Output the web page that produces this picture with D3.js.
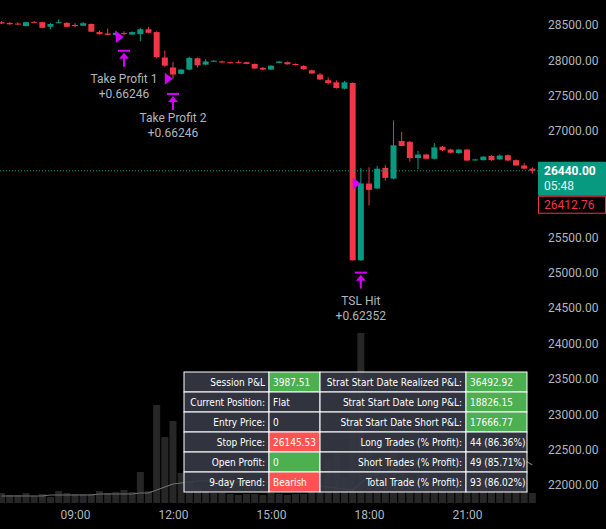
<!DOCTYPE html><html><head><meta charset="utf-8">
<script src="https://cdn.jsdelivr.net/npm/d3@7"></script>
<style>body{margin:0;background:#000;}svg{display:block;font-family:Roboto,sans-serif;}</style></head><body>
<svg id="c" width="606" height="529"></svg>
<script>
const startTime="06:45";
const opens=[28540,28530,28520,28485,28545,28540,28475,28530,28530,28500,28490,28515,28400,28380,28360,28385,28365,28370,28440,28400,28040,27900,27810,27870,28030,27940,27990,27985,27975,27975,27975,27950,27895,27870,27965,27975,27950,27920,27860,27800,27720,27690,27600,27680,25175,26260,26190,26480,26330,26860,26850,26620,26670,26610,26780,26740,26690,26740,26590,26590,26650,26600,26660,26590,26515,26470];
const highs=[28555,28540,28540,28545,28555,28545,28525,28580,28540,28525,28540,28520,28420,28450,28420,28410,28410,28460,28470,28410,28140,27980,27880,28050,28040,28020,28005,27995,27980,28000,27980,27955,27905,27930,27990,27985,27955,27930,27870,27820,27760,27720,27710,27690,26480,26490,26510,26520,27150,26990,26860,26720,26680,26830,26790,26750,26750,26750,26610,26645,26660,26670,26670,26600,26550,26490];
const lows=[28515,28505,28500,28480,28530,28455,28440,28525,28470,28470,28485,28400,28365,28355,28340,28360,28360,28270,28380,28030,27910,27740,27800,27860,27900,27930,27980,27965,27955,27960,27945,27880,27860,27865,27960,27940,27930,27870,27810,27720,27660,27600,27590,25170,25170,25950,26180,26300,26320,26790,26570,26460,26600,26600,26720,26690,26685,26580,26585,26585,26580,26595,26580,26510,26460,26400];
const closes=[28520,28510,28515,28540,28535,28460,28515,28540,28475,28495,28525,28405,28370,28360,28390,28380,28400,28440,28390,28045,27925,27800,27870,28035,27930,27985,27995,27970,27960,27970,27950,27885,27870,27925,27985,27945,27935,27875,27815,27730,27680,27610,27690,25175,26260,26170,26470,26340,26800,26790,26620,26670,26610,26770,26730,26695,26740,26585,26600,26640,26590,26655,26585,26515,26470,26440];
const volumes=[10,8,8,10,7,9,6,12,10,9,9,9,12,10,11,13,11,31,12,98,66,82,30,22,14,12,10,10,9,8,9,9,8,10,9,8,9,9,11,12,43,50,25,120,170,60,45,30,55,35,25,20,30,18,15,14,16,14,12,14,12,13,15,14,14,10];
const volumeMA=[7,7,7,7,7,7,8,8,8,8,8,8,9,9,9,9,9,10,10,13,16,19,20,21,22,22,22,22,21,21,21,21,21,21,20,20,20,19,18,17,16,15,14,13,20,26,29,31,33,35,38,40,41,43,44,45,45,45,45,45,45,45,45,44,43,38,33];
const priceTicks=[28500,28000,27500,27000,25500,25000,24500,24000,23500,23000,22500,22000];
const timeTicks=["09:00","12:00","15:00","18:00","21:00"];
const signals=[{i:14,label:"Take Profit 1",value:"+0.66246",arrow:28150,triY:28330,text:27680},
 {i:20,label:"Take Profit 2",value:"+0.66246",arrow:27540,triY:27740,text:27130},
 {i:43,label:"TSL Hit",value:"+0.62352",arrow:25015,triY:26260,text:24550}];
const tableRows=[["Session P&L","3987.51","g","Strat Start Date Realized P&L:","36492.92","g"],
 ["Current Position:","Flat","","Strat Start Date Long P&L:","18826.15","g"],
 ["Entry Price:","0","","Strat Start Date Short P&L:","17666.77","g"],
 ["Stop Price:","26145.53","r","Long Trades  (% Profit):","44 (86.36%)",""],
 ["Open Profit:","0","g","Short Trades  (% Profit):","49 (85.71%)",""],
 ["9-day Trend:","Bearish","r","Total Trade  (% Profit):","93 (86.02%)",""]];
const lastPrice=26440, lastLabel="26440.00", countdown="05:48", otherPrice="26412.76";

const svg=d3.select("#c");
const pt=d3.timeParse("%H:%M");
const t0=pt(startTime);
const times=opens.map((d,i)=>d3.timeMinute.offset(t0,15*i));
const x=d3.scaleTime().domain([pt("09:00"),pt("21:00")]).range([75,467]);
const y=d3.scaleLinear().domain([22000,28500]).range([485,25]);
const yv=d3.scaleLinear().domain([0,170]).range([503,333]);
const G="#089981",R="#f23645",M="#d500f9",TX="#b2b5be";
svg.append("rect").attr("width",606).attr("height",529).attr("fill","#000");
const plot=svg.append("g");
plot.selectAll(".v").data(volumes).join("rect").attr("x",(d,i)=>x(times[i])-3.5).attr("width",7)
 .attr("y",d=>yv(d)).attr("height",d=>503-yv(d)).attr("fill","#262626");
plot.append("path").datum(volumeMA).attr("fill","none").attr("stroke","#707070").attr("stroke-width",1.2)
 .attr("d",d3.line().x((d,i)=>x(times[i])).y(d=>yv(d)));
const cd=opens.map((o,i)=>({t:times[i],o,h:highs[i],l:lows[i],c:closes[i]}));
const cg=plot.selectAll(".k").data(cd).join("g");
cg.append("line").attr("x1",d=>x(d.t)).attr("x2",d=>x(d.t)).attr("y1",d=>y(d.h)).attr("y2",d=>y(d.l))
 .attr("stroke",d=>d.c>=d.o?G:R);
cg.append("rect").attr("x",d=>x(d.t)-3).attr("width",6).attr("y",d=>y(Math.max(d.o,d.c)))
 .attr("height",d=>Math.max(1,Math.abs(y(d.o)-y(d.c)))).attr("fill",d=>d.c>=d.o?G:R);
signals.forEach(s=>{
 const cx=x(times[s.i])+3;
 const ty=y(s.triY);
 plot.append("path").attr("d",`M${cx-3},${ty-6}L${cx+5},${ty}L${cx-3},${ty+6}Z`).attr("fill",M);
 const ax=x(times[s.i+1]), ay=y(s.arrow);
 plot.append("rect").attr("x",ax-6).attr("y",ay).attr("width",12).attr("height",2).attr("fill",M);
 plot.append("path").attr("d",`M${ax-5},${ay+9}L${ax},${ay+3}L${ax+5},${ay+9}Z`).attr("fill",M);
 plot.append("rect").attr("x",ax-1).attr("y",ay+7).attr("width",2).attr("height",10).attr("fill",M);
 const tyy=y(s.text);
 plot.append("text").attr("x",ax).attr("y",tyy).attr("text-anchor","middle").attr("fill",TX).attr("font-size",12).text(s.label);
 plot.append("text").attr("x",ax).attr("y",tyy+15).attr("text-anchor","middle").attr("fill",TX).attr("font-size",12).text(s.value);
});
svg.append("line").attr("x1",0).attr("x2",540).attr("y1",y(lastPrice)).attr("y2",y(lastPrice))
 .attr("stroke",G).attr("stroke-dasharray","1,2");
const ya=d3.axisRight(y).tickValues(priceTicks).tickFormat(d3.format(".2f")).tickSize(0).tickPadding(0);
const yg=svg.append("g").attr("transform","translate(548,0)").call(ya);
yg.select(".domain").remove();
yg.selectAll("text").attr("fill",TX).attr("font-size",12).attr("font-family","Roboto");
const xa=d3.axisBottom(x).tickValues(timeTicks.map(pt)).tickFormat(d3.timeFormat("%H:%M")).tickSize(0).tickPadding(0);
const xg=svg.append("g").attr("transform","translate(0,510)").call(xa);
xg.select(".domain").remove();
xg.selectAll("text").attr("fill",TX).attr("font-size",12).attr("font-family","Roboto");
const ly=y(lastPrice);
svg.append("rect").attr("x",538).attr("y",ly-9).attr("width",68).attr("height",34).attr("fill",G).attr("rx",1);
svg.append("text").attr("x",544).attr("y",ly+4).attr("fill","#fff").attr("font-size",12).attr("font-weight","bold").text(lastLabel);
svg.append("text").attr("x",544).attr("y",ly+19).attr("fill","#e6f2ef").attr("font-size",12).text(countdown);
const oy=y(26412.76);
svg.append("rect").attr("x",538.5).attr("y",oy+23.5).attr("width",67).attr("height",17).attr("fill","#000").attr("stroke",R);
svg.append("text").attr("x",544).attr("y",oy+36).attr("fill",R).attr("font-size",12).text(otherPrice);
const cols=[184,269,320,466,527], rh=20, tY=372;
const tg=svg.append("g").attr("font-family","'DejaVu Sans Condensed',sans-serif").attr("font-size",10);
const bg={g:"#4caf50",r:"#ff5252","":"rgba(54,58,69,0.9)"};
tableRows.forEach((r,ri)=>{
 const cy=tY+ri*rh;
 const cells=[[r[0],""],[r[1],r[2]],[r[3],""],[r[4],r[5]]];
 cells.forEach((c,ci)=>{
  tg.append("rect").attr("x",cols[ci]).attr("y",cy).attr("width",cols[ci+1]-cols[ci]).attr("height",rh)
   .attr("fill",bg[c[1]]).attr("stroke","#fff").attr("stroke-width",1);
  const right=ci%2==0;
  tg.append("text").attr("x",right?cols[ci+1]-4:cols[ci]+4).attr("y",cy+14).attr("text-anchor",right?"end":"start")
   .attr("fill","#fff").text(c[0]);
 });
});
</script></body></html>
